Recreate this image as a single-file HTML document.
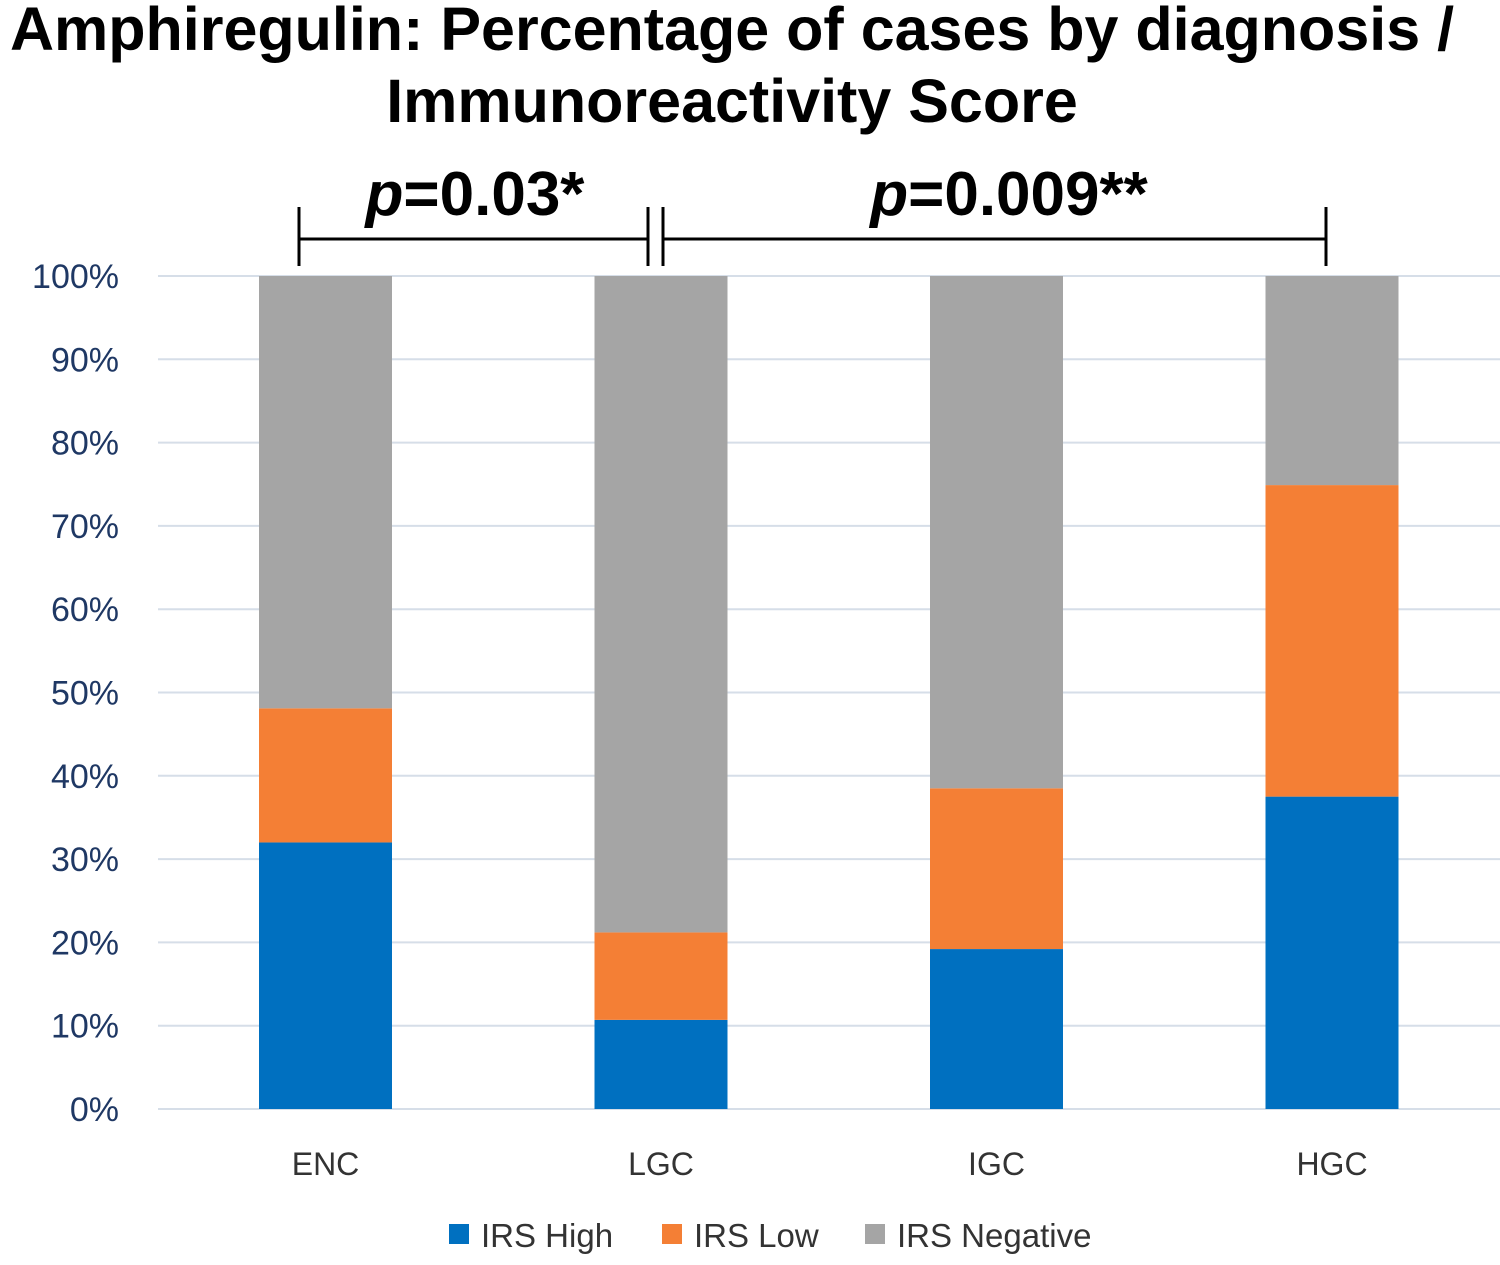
<!DOCTYPE html>
<html><head><meta charset="utf-8"><style>
body{margin:0;background:#fff;width:1500px;height:1260px;overflow:hidden}
svg text{font-family:"Liberation Sans",sans-serif}
</style></head><body>
<svg id="chart" width="1500" height="1260">
<text x="732" y="50" text-anchor="middle" font-size="61" font-weight="bold">Amphiregulin: Percentage of cases by diagnosis /</text>
<text x="732" y="122" text-anchor="middle" font-size="61" font-weight="bold">Immunoreactivity Score</text>
<g stroke="#000" stroke-width="3">
<line x1="299" y1="239" x2="648" y2="239"/><line x1="299" y1="207" x2="299" y2="266"/><line x1="648" y1="207" x2="648" y2="266"/>
<line x1="663" y1="239" x2="1326" y2="239"/><line x1="663" y1="207" x2="663" y2="266"/><line x1="1326" y1="207" x2="1326" y2="266"/>
</g>
<text x="475" y="215" text-anchor="middle" font-size="62" font-weight="bold"><tspan font-style="italic">p</tspan>=0.03*</text>
<text x="1009" y="215" text-anchor="middle" font-size="62" font-weight="bold"><tspan font-style="italic">p</tspan>=0.009**</text>
<g id="grid"></g><g id="bars"></g><g id="labels"></g>
<g font-size="33" fill="#333">
<rect x="449" y="1224" width="20" height="20" fill="#0070c0"/>
<text x="481" y="1247">IRS High</text>
<rect x="662" y="1224" width="20" height="20" fill="#f47f35"/>
<text x="694" y="1247">IRS Low</text>
<rect x="865" y="1224" width="20" height="20" fill="#a5a5a5"/>
<text x="897" y="1247">IRS Negative</text>
</g>
</svg>
<script>
const categories=["ENC","LGC","IGC","HGC"];
const irsHigh=[32.0,10.7,19.2,37.5];
const irsLow=[16.1,10.5,19.3,37.4];
const yTicks=[0,10,20,30,40,50,60,70,80,90,100];
const ns="http://www.w3.org/2000/svg";
const y=v=>1109-v*8.33;
const xc=i=>325.5+i*335.5;
const bw=133;
function mk(t,a,p){const e=document.createElementNS(ns,t);for(const k in a)e.setAttribute(k,a[k]);document.getElementById(p).appendChild(e);return e;}
yTicks.forEach(t=>{
 const l=mk('line',{x1:158,x2:1500,y1:y(t),y2:y(t),stroke:'#d6dee8','stroke-width':2},'grid');
 
 
 const tx=mk('text',{x:119,y:y(t)+12,'text-anchor':'end','font-size':34,fill:'#1f3864'},'grid');
 tx.textContent=t+'%';
 
 
});
categories.forEach((c,i)=>{
 const h=irsHigh[i],lo=irsLow[i];
 const segs=[[0,h,'#0070c0','bar-high-'],[h,h+lo,'#f47f35','bar-low-'],[h+lo,100,'#a5a5a5','bar-negative-']];
 segs.forEach(s=>{
  const r=mk('rect',{x:xc(i)-bw/2,y:y(s[1]),width:bw,height:y(s[0])-y(s[1]),fill:s[2]},'bars');
  
  
 });
 const t=mk('text',{x:xc(i),y:1175,'text-anchor':'middle','font-size':32,fill:'#333'},'labels');
 t.textContent=c;
 
 
});
</script>
</body></html>
